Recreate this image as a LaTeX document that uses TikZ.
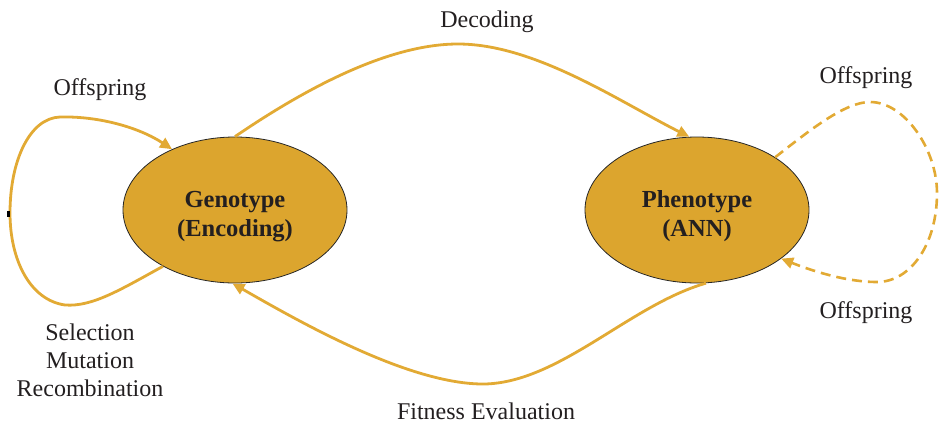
\documentclass[tikz,border=0pt]{standalone}
\usepackage{fontspec}
\setmainfont{Liberation Serif}
\usetikzlibrary{shapes.geometric,arrows.meta}

\definecolor{gold}{RGB}{220,165,46}
\definecolor{goldline}{RGB}{226,170,52}
\definecolor{ink}{RGB}{35,31,32}

\tikzset{
  statebox/.style={ellipse, fill=gold, draw=black!85, line width=0.8pt,
    minimum width=224pt, minimum height=146pt, inner sep=0pt,
    text=ink, align=center, text height=52pt, text depth=0pt,
    font=\fontsize{24.5}{29}\selectfont\bfseries},
  flow/.style={draw=goldline, line width=2.8pt,
    -{Triangle[length=12pt,width=11pt]}},
  selfloop/.style={flow, line width=2.6pt, dash pattern=on 10pt off 6pt},
  lbl/.style={text=ink, inner sep=0pt, anchor=base,
    font=\fontsize{24}{28}\selectfont}
}

\begin{document}
\begin{tikzpicture}[x=1pt,y=-1pt]
\useasboundingbox (0,0) rectangle (940,424);

% the two states
\node[statebox] (geno)  at (235,210) {Genotype\\(Encoding)};
\node[statebox] (pheno) at (697,210) {Phenotype\\(ANN)};

% decoding: genotype -> phenotype
\draw[flow] (geno.90) .. controls (312,84) and (392,44) .. (458,44)
  .. controls (535,44) and (620,102) .. (pheno.96);

% fitness evaluation: phenotype -> genotype
\draw[flow] (pheno.277) .. controls (630,305) and (560,382) .. (485,384)
  .. controls (410,385) and (300,322) .. (geno.268);

% offspring loop on the genotype
\draw[flow] (geno.218) .. controls (120,290) and (92,307) .. (65,305)
  .. controls (30,300) and (10,260) .. (10,213)
  .. controls (10,160) and (30,118) .. (60,117)
  .. controls (100,116) and (140,128) .. (geno.136);
\fill[black] (6.5,210.5) rectangle (9.5,216.5);

% offspring loop on the phenotype
\draw[selfloop] (pheno.34) .. controls (810,130) and (845,102) .. (870,102)
  .. controls (905,102) and (937,150) .. (937,193)
  .. controls (937,245) and (910,282) .. (877,282)
  .. controls (845,282) and (810,270) .. (pheno.330);

% labels
\node[lbl] (decoding) at (487,27) {Decoding};
\node[lbl] (offL) at (100,95) {Offspring};
\node[lbl] (offRt) at (866,83) {Offspring};
\node[lbl] (offRb) at (866,318) {Offspring};
\node[lbl] (fitness) at (486,419) {Fitness Evaluation};
\node[text=ink, inner sep=0pt, anchor=north, align=center,
  font=\fontsize{24}{28}\selectfont] (ops) at (90,324)
  {Selection\\Mutation\\Recombination};
\end{tikzpicture}
\end{document}
